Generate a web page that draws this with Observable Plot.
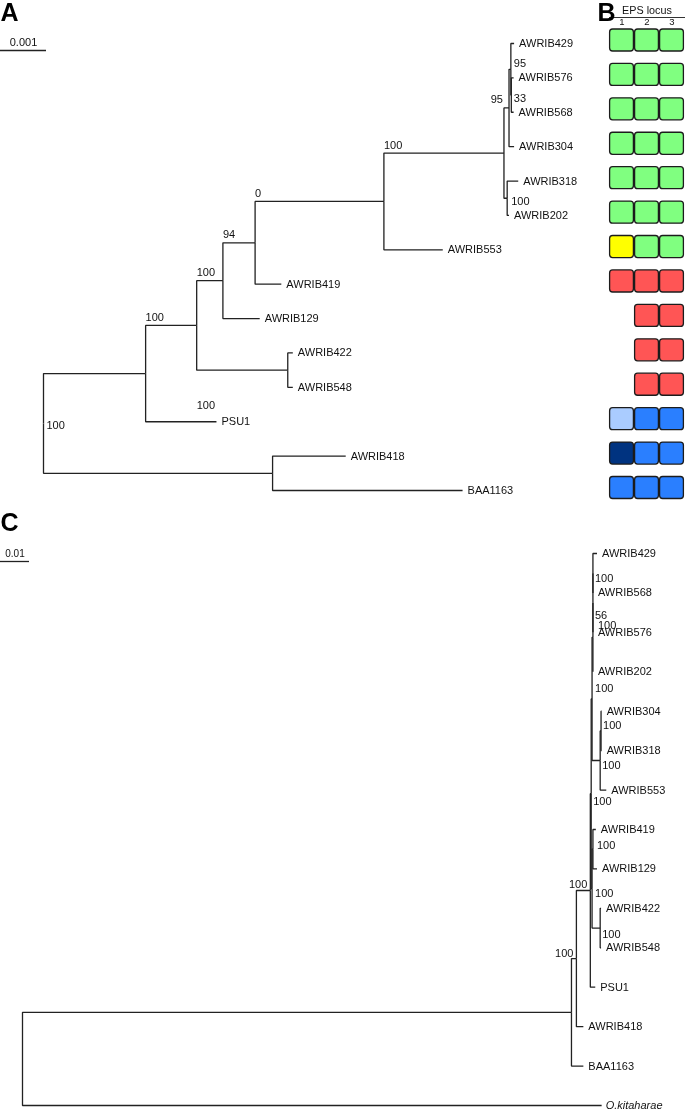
<!DOCTYPE html>
<html><head><meta charset="utf-8">
<script src="https://cdn.jsdelivr.net/npm/d3@7"></script>
<script src="https://cdn.jsdelivr.net/npm/@observablehq/plot@0.6"></script>
<style>
html,body{margin:0;padding:0;background:#fff;}
#root{position:relative;width:685px;height:1110px;overflow:hidden;background:#fff;}
</style></head><body><div id="root"></div>
<script>
// ---------------- DATA ----------------
// Tree A (EPS-locus strains), edges: [child, parent, branch length]
const edgesA = [
  ["n1","root",0.00222], ["n12","root",0.00498],
  ["n2","n1",0.00111], ["PSU1","n1",0.00154],
  ["n3","n2",0.00057], ["n11","n2",0.00198],
  ["n4","n3",0.00070], ["AWRIB129","n3",0.00080],
  ["n5","n4",0.00280], ["AWRIB419","n4",0.00057],
  ["n6","n5",0.00261], ["AWRIB553","n5",0.00128],
  ["n7","n6",0.00011], ["n10","n6",0.00007],
  ["n8","n7",0.00004], ["AWRIB304","n7",0.00011],
  ["AWRIB429","n8",0.00007], ["n9","n8",0.00001],
  ["AWRIB576","n9",0.00005], ["AWRIB568","n9",0.00005],
  ["AWRIB318","n10",0.00024], ["AWRIB202","n10",0.00004],
  ["AWRIB422","n11",0.00011], ["AWRIB548","n11",0.00011],
  ["AWRIB418","n12",0.00159], ["BAA1163","n12",0.00413]
];
const leafOrderA = ["AWRIB429","AWRIB576","AWRIB568","AWRIB304","AWRIB318","AWRIB202","AWRIB553",
  "AWRIB419","AWRIB129","AWRIB422","AWRIB548","PSU1","AWRIB418","BAA1163"];
const bootstrapA = [["root",100],["n2",100],["n3",100],["n4",94],["n5",0],["n6",100],
  ["n7",95],["n8",95],["n9",33],["n10",100],["n11",100]];
const scaleBarA = [{length:0.001, label:"0.001"}];

// Panel B: EPS locus types per strain (same order as tree A leaves)
const epsLoci = [1,2,3];
const epsLocus1 = ["G","G","G","G","G","G","Y","R",null,null,null,"LB","DB","B"];
const epsLocus2 = ["G","G","G","G","G","G","G","R","R","R","R","B","B","B"];
const epsLocus3 = ["G","G","G","G","G","G","G","R","R","R","R","B","B","B"];

// Tree C (with outgroup)
const edgesC = [
  ["c1","root",0.1893], ["O.kitaharae","root",0.1997],
  ["c2","c1",0.0017], ["BAA1163","c1",0.0041],
  ["c3","c2",0.0048], ["AWRIB418","c2",0.0024],
  ["c4","c3",0.0003], ["PSU1","c3",0.0017],
  ["c12","c4",0.0003], ["c6","c4",0.0003],
  ["ce","c12",0.0003], ["c10","c12",0.0028],
  ["cd","ce",0.0000], ["AWRIB202","ce",0.0000],
  ["cc","cd",0.0000], ["AWRIB576","cd",0.0000],
  ["AWRIB429","cc",0.0014], ["AWRIB568","cc",0.0000],
  ["c9","c10",0.0003], ["AWRIB553","c10",0.0021],
  ["AWRIB304","c9",0.0002], ["AWRIB318","c9",0.0002],
  ["c7","c6",0.0003], ["c8","c6",0.0028],
  ["AWRIB419","c7",0.0010], ["AWRIB129","c7",0.0014],
  ["AWRIB422","c8",0.0003], ["AWRIB548","c8",0.0003]
];
const leafOrderC = ["AWRIB429","AWRIB568","AWRIB576","AWRIB202","AWRIB304","AWRIB318","AWRIB553",
  "AWRIB419","AWRIB129","AWRIB422","AWRIB548","PSU1","AWRIB418","BAA1163","O.kitaharae"];
const bootstrapC = [["cc",100],["cd",56],["ce",100],["c12",100],["c9",100],["c10",100],
  ["c4",100],["c7",100],["c6",100],["c8",100],["c3",100],["c2",100]];
const scaleBarC = [{length:0.01, label:"0.01"}];

// ---------------- LAYOUT HELPERS ----------------
function layoutTree(edges, leafOrder) {
  const kids = new Map(), parentOf = new Map(), len = new Map();
  for (const [c,p,l] of edges) {
    if (!kids.has(p)) kids.set(p, []);
    kids.get(p).push(c); parentOf.set(c, p); len.set(c, l);
  }
  const rootName = edges.map(e => e[1]).find(p => !parentOf.has(p));
  const nodes = new Map();
  (function walk(n, x) {
    const node = {name:n, x, parent: parentOf.has(n) ? parentOf.get(n) : null};
    nodes.set(n, node);
    const ch = kids.get(n) || [];
    if (!ch.length) { node.leaf = true; node.y = leafOrder.indexOf(n); }
    else {
      node.leaf = false;
      const ys = ch.map(c => walk(c, x + len.get(c)).y);
      node.y = (d3.min(ys) + d3.max(ys)) / 2;
    }
    return node;
  })(rootName, 0);
  const all = [...nodes.values()];
  const links = all.filter(n => n.parent !== null).map(n => ({source: nodes.get(n.parent), target: n}));
  return {nodes, links, leaves: all.filter(n => n.leaf)};
}

const FONT = '"Liberation Sans", Arial, Helvetica, sans-serif';
const INK = "#111";
const LINE = "#222";

function treeMarks(T, boot, place, fontSize) {
  const marks = [
    Plot.link(T.links, {x1: d => d.source.x, y1: d => d.source.y, x2: d => d.target.x, y2: d => d.target.y,
      curve: "step-before", stroke: LINE, strokeWidth: 1.3}),
    Plot.text(T.leaves.filter(d => d.name !== "O.kitaharae"), {x: "x", y: "y", text: "name", dx: 5,
      textAnchor: "start", fontSize, fill: INK}),
    Plot.text(T.leaves.filter(d => d.name === "O.kitaharae"), {x: "x", y: "y", text: "name", dx: 4,
      textAnchor: "start", fontSize, fontStyle: "italic", fill: INK})
  ];
  for (const [n, v] of boot) {
    const node = T.nodes.get(n);
    const p = place[n] || {ref: "parent", dx: 0, dy: -8, anchor: "start"};
    const ref = p.ref === "parent" ? T.nodes.get(node.parent) : node;
    marks.push(Plot.text([v], {x: ref.x, y: node.y, text: d => String(d), dx: p.dx, dy: p.dy,
      textAnchor: p.anchor || "start", fontSize, fill: INK}));
  }
  return marks;
}

const root = document.getElementById("root");
function put(el, left, top, gray) {
  el.style.position = "absolute"; el.style.left = left + "px"; el.style.top = top + "px";
  el.style.overflow = "visible";
  if (gray) el.style.filter = "grayscale(1)";
  root.appendChild(el);
}

// ---------------- PANEL A ----------------
const A = layoutTree(edgesA, leafOrderA);
const aRootPx = 43, aUnitPx = 46 / 0.001, aRow0 = 43, aRowPx = (490 - 43) / 13;
const axA = px => (px - aRootPx) / aUnitPx;
const ayA = px => (px - aRow0) / aRowPx;
const placeA = {
  n7: {ref: "parent", dx: -1, dy: -9, anchor: "end"},
  n8: {ref: "node", dx: 3, dy: -6},
  n9: {ref: "node", dx: 2.5, dy: 3},
  n10: {ref: "node", dx: 4, dy: 3},
  n11: {ref: "parent", dx: 0, dy: 35},
  root: {ref: "node", dx: 3, dy: 2}
};
const plotA = Plot.plot({
  width: 590, height: 510, margin: 0,
  style: {fontFamily: FONT, background: "transparent", overflow: "visible"},
  x: {domain: [0, 0.001], range: [aRootPx, aRootPx + 46], axis: null},
  y: {domain: [0, 13], range: [aRow0, 490], axis: null},
  marks: [
    ...treeMarks(A, bootstrapA, placeA, 11),
    Plot.ruleY(scaleBarA, {y: ayA(50), x1: axA(0), x2: d => axA(0) + d.length, stroke: LINE, strokeWidth: 1.3}),
    Plot.text(scaleBarA, {x: d => axA(0) + d.length / 2, y: ayA(41.5), text: "label", fontSize: 11, fill: INK}),
    Plot.text(["A"], {frameAnchor: "top-left", textAnchor: "start", lineAnchor: "top", dy: 3,
      fontSize: 25, fontWeight: "bold", fill: "#000"})
  ]
});
put(plotA, 0, 0, true);

// ---------------- PANEL B ----------------
const cells = [];
leafOrderA.forEach((s, i) => {
  [epsLocus1, epsLocus2, epsLocus3].forEach((arr, j) => {
    if (arr[i]) cells.push({strain: s, row: i, locus: epsLoci[j], state: arr[i]});
  });
});
const bRow0 = 40, bRowPx = (487.5 - 40) / 13;
const plotB = Plot.plot({
  width: 95, height: 510, marginLeft: 19, marginRight: 1, marginTop: 0, marginBottom: 0,
  style: {fontFamily: FONT, background: "transparent", overflow: "visible"},
  x: {type: "band", domain: epsLoci, padding: 0, axis: null},
  y: {domain: [0, 13], range: [bRow0, 487.5], axis: null},
  color: {domain: ["G","Y","R","LB","DB","B"],
          range: ["#80ff80","#ffff00","#ff5555","#aaccff","#003380","#2a7fff"]},
  marks: [
    Plot.barY(cells, {x: "locus", y1: d => d.row - 0.32, y2: d => d.row + 0.32, fill: "state",
      stroke: "#1c1c1c", strokeWidth: 1.3, rx: 3, insetLeft: 0.6, insetRight: 0.6})
  ]
});
put(plotB, 590, 0, false);

// Panel B header (locus numbers and title)
const plotBH = Plot.plot({
  width: 98, height: 30, marginLeft: 19, marginRight: 1, marginTop: 0, marginBottom: 0,
  style: {fontFamily: FONT, background: "transparent", overflow: "visible"},
  x: {type: "band", domain: epsLoci, range: [19, 94], padding: 0, axis: null},
  y: {domain: [0, 30], range: [0, 30], axis: null},
  marks: [
    Plot.ruleY([17], {stroke: "#333", strokeWidth: 1}),
    Plot.text(epsLoci, {x: d => d, y: 21, text: d => String(d), fontSize: 9.5, fill: INK}),
    Plot.text(["EPS locus"], {x: () => 2, y: 10.5, text: d => d, fontSize: 10.8, fill: INK}),
    Plot.text(["B"], {x: () => 1, y: 3, dx: -12 - 12.5, textAnchor: "start", lineAnchor: "top",
      fontSize: 25, fontWeight: "bold", fill: "#000"})
  ]
});
put(plotBH, 590, 0, true);

// ---------------- PANEL C ----------------
const C = layoutTree(edgesC, leafOrderC);
const cRootPx = 22, cUnitPx = 29 / 0.01, cRow0 = 43, cRowPx = (595 - 43) / 14;
const axC = px => (px - cRootPx) / cUnitPx;
const ayC = px => (px - cRow0) / cRowPx;
const placeC = {
  cc: {ref: "node", dx: 2, dy: 5},
  cd: {ref: "node", dx: 2, dy: 12.5},
  ce: {ref: "node", dx: 5, dy: -12},
  c12: {ref: "node", dx: 3, dy: -10},
  c9: {ref: "node", dx: 2, dy: -5},
  c10: {ref: "node", dx: 2, dy: 5},
  c4: {ref: "node", dx: 2, dy: 8},
  c7: {ref: "node", dx: 4, dy: -4},
  c6: {ref: "node", dx: 3, dy: 5},
  c8: {ref: "node", dx: 2, dy: 6},
  c3: {ref: "node", dx: -3, dy: -6, anchor: "end"},
  c2: {ref: "node", dx: -3, dy: -5, anchor: "end"}
};
const plotC = Plot.plot({
  width: 685, height: 600, margin: 0,
  style: {fontFamily: FONT, background: "transparent", overflow: "visible"},
  x: {domain: [0, 0.01], range: [cRootPx, cRootPx + 29], axis: null},
  y: {domain: [0, 14], range: [cRow0, 595], axis: null},
  marks: [
    ...treeMarks(C, bootstrapC, placeC, 11),
    Plot.ruleY(scaleBarC, {y: ayC(51), x1: axC(0), x2: d => axC(0) + d.length, stroke: LINE, strokeWidth: 1.3}),
    Plot.text(scaleBarC, {x: d => axC(0) + d.length / 2, y: ayC(43.5), text: "label", fontSize: 10, fill: INK}),
    Plot.text(["C"], {frameAnchor: "top-left", textAnchor: "start", lineAnchor: "top", dy: 3,
      fontSize: 25, fontWeight: "bold", fill: "#000"})
  ]
});
put(plotC, 0, 510, true);
</script></body></html>
